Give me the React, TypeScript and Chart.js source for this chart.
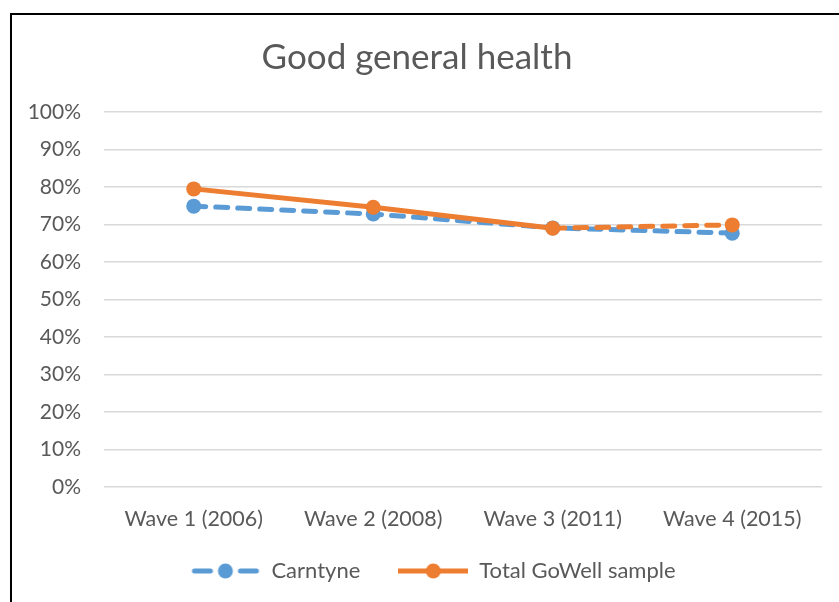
import React, { useEffect, useRef } from "react";
import { Chart, registerables } from "chart.js";

Chart.register(...registerables);

const categories = ["Wave 1 (2006)", "Wave 2 (2008)", "Wave 3 (2011)", "Wave 4 (2015)"];
const carntyne = [74.9, 72.8, 69.1, 67.7];
const totalGoWell = [79.5, 74.6, 69.0, 69.9];
const seriesNames = ["Carntyne", "Total GoWell sample"];
const yTicks = [0, 10, 20, 30, 40, 50, 60, 70, 80, 90, 100];

const BLUE = "#5B9BD5";
const ORANGE = "#ED7D31";
const TEXT = "#595959";
const FONT = "Lato, 'Open Sans', sans-serif";

function legendSymbol(color: string, dashed: boolean): HTMLCanvasElement {
  const c = document.createElement("canvas");
  c.width = 70;
  c.height = 16;
  const g = c.getContext("2d")!;
  g.strokeStyle = color;
  g.lineWidth = 5;
  g.lineCap = dashed ? "round" : "butt";
  if (dashed) g.setLineDash([16, 30]);
  g.beginPath();
  g.moveTo(dashed ? 4 : 0, 8);
  g.lineTo(dashed ? 66 : 70, 8);
  g.stroke();
  g.setLineDash([]);
  g.fillStyle = color;
  g.beginPath();
  g.arc(35, 8, 7.5, 0, Math.PI * 2);
  g.fill();
  return c;
}

const frame = {
  id: "frame",
  beforeDraw(chart: any) {
    const { ctx, width, height } = chart;
    ctx.save();
    ctx.fillStyle = "#ffffff";
    ctx.fillRect(0, 0, width, height);
    ctx.strokeStyle = "#000000";
    ctx.lineWidth = 2;
    ctx.beginPath();
    ctx.moveTo(11, height);
    ctx.lineTo(11, 14);
    ctx.lineTo(width, 14);
    ctx.stroke();
    ctx.restore();
  },
};

const tweakLayout = {
  id: "tweakLayout",
  afterLayout(chart: any) {
    const x = chart.scales.x;
    if (x) x.bottom = x.top + 60;
    if (chart.legend) {
      chart.legend.left += 16;
      chart.legend.right += 16;
    }
  },
};

export default function App() {
  const ref = useRef<HTMLCanvasElement>(null);
  useEffect(() => {
    document.body.style.margin = "0";
    const blueSym = legendSymbol(BLUE, true);
    const orangeSym = legendSymbol(ORANGE, false);
    const chart = new Chart(ref.current!, {
      type: "line",
      data: {
        labels: categories,
        datasets: [
          {
            label: seriesNames[1],
            data: totalGoWell,
            borderColor: ORANGE,
            backgroundColor: ORANGE,
            borderWidth: 5,
            borderCapStyle: "round",
            pointRadius: 7.5,
            pointHoverRadius: 7.5,
            pointBorderWidth: 0,
            pointBackgroundColor: ORANGE,
            tension: 0,
            segment: {
              borderDash: (c: any) => (c.p0DataIndex === 2 ? [12, 10] : undefined),
            },
          },
          {
            label: seriesNames[0],
            data: carntyne,
            borderColor: BLUE,
            backgroundColor: BLUE,
            borderWidth: 5,
            borderCapStyle: "round",
            borderDash: [12, 10],
            pointRadius: 7.5,
            pointHoverRadius: 7.5,
            pointBorderWidth: 0,
            pointBackgroundColor: BLUE,
            tension: 0,
          },
        ],
      },
      options: {
        animation: false,
        responsive: false,
        layout: { padding: { top: 14, left: 12, right: 17, bottom: 10 } },
        plugins: {
          title: {
            display: true,
            text: "Good general health",
            color: TEXT,
            font: { family: FONT, size: 35, weight: "normal" },
            padding: { top: 23, bottom: 33 },
          },
          legend: {
            position: "bottom",
            labels: {
              usePointStyle: true,
              pointStyleWidth: 70,
              padding: 38,
              color: TEXT,
              font: { family: FONT, size: 22 },
              generateLabels: () => [
                { text: seriesNames[0], pointStyle: blueSym as any, fillStyle: BLUE, strokeStyle: BLUE, lineWidth: 0, datasetIndex: 1, fontColor: TEXT } as any,
                { text: seriesNames[1], pointStyle: orangeSym as any, fillStyle: ORANGE, strokeStyle: ORANGE, lineWidth: 0, datasetIndex: 0, fontColor: TEXT } as any,
              ],
            },
          },
          tooltip: { enabled: false },
        },
        scales: {
          x: {
            offset: true,
            grid: { display: false, drawTicks: false },
            border: { display: false },
            ticks: { color: TEXT, font: { family: FONT, size: 21.5 }, padding: 19 },
            afterFit: (s: any) => { s.height = 35; },
          },
          y: {
            min: 0,
            max: 100,
            afterBuildTicks: (s: any) => { s.ticks = yTicks.map((v) => ({ value: v })); },
            grid: { color: "#D9D9D9", lineWidth: 1.5, drawTicks: false },
            border: { display: false },
            ticks: {
              color: TEXT,
              font: { family: FONT, size: 21 },
              padding: 23,
              callback: (v: any) => v + "%",
            },
            afterFit: (s: any) => { s.width = 92; },
          },
        },
      },
      plugins: [frame, tweakLayout],
    });
    return () => chart.destroy();
  }, []);
  return <canvas ref={ref} width={839} height={602} style={{ display: "block" }} />;
}
